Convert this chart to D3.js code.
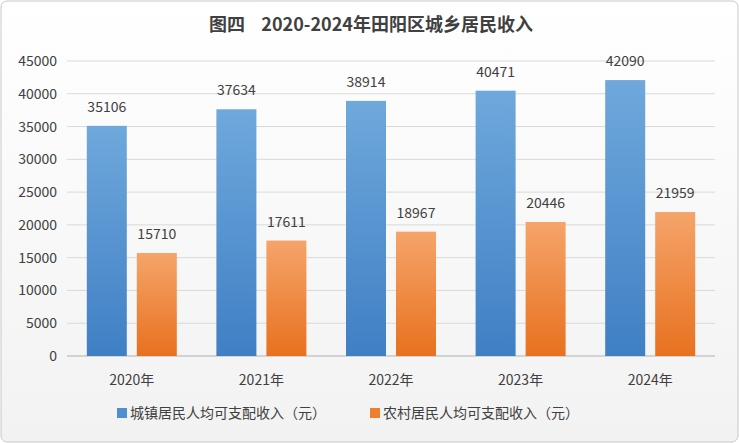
<!DOCTYPE html><html><head><meta charset="utf-8"><script src="https://cdn.jsdelivr.net/npm/d3@7"></script>
<style>body{margin:0;background:#fff}</style></head><body><svg id="c" width="739" height="443"></svg>
<script>
const categories=["2020年","2021年","2022年","2023年","2024年"];
const urban=[35106,37634,38914,40471,42090];
const rural=[15710,17611,18967,20446,21959];
const yTicks=[0,5000,10000,15000,20000,25000,30000,35000,40000,45000];
const seriesNames=["城镇居民人均可支配收入（元）","农村居民人均可支配收入（元）"];
const svg=d3.select("#c");
const defs=svg.append("defs");
const bg=defs.append("linearGradient").attr("id","bg").attr("x1",0).attr("y1",0).attr("x2",0).attr("y2",1);
bg.append("stop").attr("offset",0).attr("stop-color","#ffffff");bg.append("stop").attr("offset",1).attr("stop-color","#f2f2f2");
const gb=defs.append("linearGradient").attr("id","gb").attr("x1",0).attr("y1",0).attr("x2",0).attr("y2",1);
gb.append("stop").attr("offset",0).attr("stop-color","#6fa8dc");gb.append("stop").attr("offset",1).attr("stop-color","#3f7fc4");
const go=defs.append("linearGradient").attr("id","go").attr("x1",0).attr("y1",0).attr("x2",0).attr("y2",1);
go.append("stop").attr("offset",0).attr("stop-color","#f5a46a");go.append("stop").attr("offset",1).attr("stop-color","#e8711f");
svg.append("rect").attr("x",1).attr("y",1).attr("width",737).attr("height",441).attr("rx",6).attr("fill","url(#bg)").attr("stroke","#c8c8c8");
svg.append("text").attr("x",371).attr("y",31).attr("text-anchor","middle").attr("font-family","Noto Sans CJK SC").attr("font-weight","bold").attr("font-size",18).attr("fill","#404040").attr("xml:space","preserve").text("图四    2020-2024年田阳区城乡居民收入");
const x=d3.scaleBand().domain(categories).range([67,715]);
const y=d3.scaleLinear().domain([0,45000]).range([356,61]);
const f="Noto Sans CJK SC";
svg.append("g").selectAll("line").data(yTicks).join("line").attr("x1",67).attr("x2",715).attr("y1",d=>y(d)).attr("y2",d=>y(d)).attr("stroke","#d9d9d9");
svg.append("g").selectAll("text").data(yTicks).join("text").attr("x",57).attr("y",d=>y(d)+5).attr("text-anchor","end").attr("font-family",f).attr("font-size",14).attr("fill","#404040").text(d=>d);
svg.append("line").attr("x1",67).attr("x2",715).attr("y1",356).attr("y2",356).attr("stroke","#bfbfbf");
svg.append("g").selectAll("text").data(categories).join("text").attr("x",d=>x(d)+x.bandwidth()/2).attr("y",385).attr("text-anchor","middle").attr("font-family",f).attr("font-size",14).attr("fill","#404040").text(d=>d);
const bw=40;
[[urban,"url(#gb)",-45],[rural,"url(#go)",5]].forEach(([vals,fill,off])=>{
 const g=svg.append("g");
 g.selectAll("rect").data(vals).join("rect").attr("x",(d,i)=>x(categories[i])+x.bandwidth()/2+off).attr("width",bw).attr("y",d=>y(d)).attr("height",d=>356-y(d)).attr("fill",fill);
 g.selectAll("text").data(vals).join("text").attr("x",(d,i)=>x(categories[i])+x.bandwidth()/2+off+bw/2).attr("y",d=>y(d)-14).attr("text-anchor","middle").attr("font-family",f).attr("font-size",14).attr("fill","#404040").text(d=>d);
});
const lg=svg.append("g");
[[117,"#4f8fd0"],[370,"#ef7f2e"]].forEach(([lx,c],i)=>{
 lg.append("rect").attr("x",lx).attr("y",408).attr("width",10).attr("height",10).attr("fill",c);
 lg.append("text").attr("x",lx+13).attr("y",418).attr("font-family",f).attr("font-size",14).attr("fill","#404040").text(seriesNames[i]);
});
</script></body></html>
